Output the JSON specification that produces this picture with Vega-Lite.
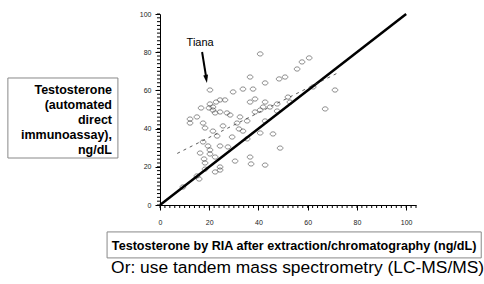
{
  "$schema": "https://vega.github.io/schema/vega-lite/v6.json",
  "width": 256,
  "height": 191,
  "autosize": {"type": "none"},
  "padding": {"left": 160, "top": 14, "right": 68, "bottom": 79},
  "background": "white",
  "config": {"view": {"stroke": null}, "font": "Liberation Sans"},
  "resolve": {"axis": {"x": "independent", "y": "independent"}},
  "datasets": {
    "minorTicks": [
      {"v": 0}, {"v": 2}, {"v": 4}, {"v": 6}, {"v": 8}, {"v": 10}, {"v": 12}, {"v": 14}, {"v": 16}, {"v": 18},
      {"v": 20}, {"v": 22}, {"v": 24}, {"v": 26}, {"v": 28}, {"v": 30}, {"v": 32}, {"v": 34}, {"v": 36}, {"v": 38},
      {"v": 40}, {"v": 42}, {"v": 44}, {"v": 46}, {"v": 48}, {"v": 50}, {"v": 52}, {"v": 54}, {"v": 56}, {"v": 58},
      {"v": 60}, {"v": 62}, {"v": 64}, {"v": 66}, {"v": 68}, {"v": 70}, {"v": 72}, {"v": 74}, {"v": 76}, {"v": 78},
      {"v": 80}, {"v": 82}, {"v": 84}, {"v": 86}, {"v": 88}, {"v": 90}, {"v": 92}, {"v": 94}, {"v": 96}, {"v": 98},
      {"v": 100}, {"v": 102}, {"v": 104}
    ]
  },
  "layer": [
    {
      "data": {"values": [
        {"x": 20.3, "y": 60.2}, {"x": 40.7, "y": 79.1}, {"x": 60.6, "y": 77.0}, {"x": 57.7, "y": 74.9},
        {"x": 55.7, "y": 71.2}, {"x": 36.6, "y": 67.0}, {"x": 48.4, "y": 66.0}, {"x": 50.8, "y": 67.0},
        {"x": 42.7, "y": 63.9}, {"x": 33.7, "y": 60.7}, {"x": 37.8, "y": 60.7}, {"x": 29.7, "y": 59.2},
        {"x": 71.1, "y": 60.2}, {"x": 62.2, "y": 61.8}, {"x": 67.1, "y": 50.3}, {"x": 20.3, "y": 52.9},
        {"x": 22.8, "y": 53.9}, {"x": 24.4, "y": 55.0}, {"x": 26.4, "y": 55.0}, {"x": 36.6, "y": 53.9},
        {"x": 38.6, "y": 55.5}, {"x": 42.7, "y": 53.9}, {"x": 47.6, "y": 52.9}, {"x": 52.8, "y": 53.9},
        {"x": 21.5, "y": 51.3}, {"x": 41.9, "y": 51.3}, {"x": 44.7, "y": 51.3}, {"x": 47.6, "y": 49.2},
        {"x": 42.7, "y": 44.0}, {"x": 40.7, "y": 37.7}, {"x": 45.9, "y": 37.2}, {"x": 48.8, "y": 29.8},
        {"x": 42.7, "y": 20.9}, {"x": 12.2, "y": 45.0}, {"x": 12.2, "y": 42.9}, {"x": 15.0, "y": 46.1},
        {"x": 17.5, "y": 42.9}, {"x": 18.3, "y": 40.3}, {"x": 21.5, "y": 38.7}, {"x": 25.6, "y": 41.4},
        {"x": 28.5, "y": 47.1}, {"x": 32.5, "y": 46.1}, {"x": 31.3, "y": 42.9}, {"x": 35.4, "y": 44.0},
        {"x": 32.1, "y": 39.8}, {"x": 33.7, "y": 38.7}, {"x": 23.2, "y": 36.1}, {"x": 29.3, "y": 35.6},
        {"x": 35.4, "y": 34.6}, {"x": 17.5, "y": 33.0}, {"x": 19.5, "y": 30.9}, {"x": 20.3, "y": 28.8},
        {"x": 24.4, "y": 30.9}, {"x": 27.6, "y": 30.4}, {"x": 16.3, "y": 27.2}, {"x": 20.3, "y": 26.7},
        {"x": 22.4, "y": 25.1}, {"x": 17.9, "y": 24.1}, {"x": 18.3, "y": 22.0}, {"x": 30.5, "y": 23.0},
        {"x": 36.6, "y": 25.1}, {"x": 37.0, "y": 21.5}, {"x": 18.3, "y": 18.8}, {"x": 22.4, "y": 17.3},
        {"x": 24.4, "y": 18.3}, {"x": 24.4, "y": 19.9}, {"x": 15.0, "y": 15.2}, {"x": 15.9, "y": 13.6},
        {"x": 9.3, "y": 9.4}, {"x": 21.5, "y": 49.7}, {"x": 24.4, "y": 48.7}, {"x": 22.4, "y": 48.2},
        {"x": 40.7, "y": 49.7}, {"x": 38.6, "y": 48.7}, {"x": 27.2, "y": 48.2}, {"x": 16.7, "y": 50.8},
        {"x": 19.9, "y": 50.8}, {"x": 52.0, "y": 56.5}
      ]},
      "mark": {"type": "point", "shape": "M-1,0A1,0.75 0 1,1 1,0A1,0.75 0 1,1 -1,0Z", "size": 32, "stroke": "#444", "strokeWidth": 0.6, "filled": false, "opacity": 1},
      "encoding": {
        "x": {
          "field": "x", "type": "quantitative",
          "scale": {"domain": [0, 104], "nice": false, "zero": false},
          "axis": {
            "orient": "bottom", "title": null,
            "values": [0, 20, 40, 60, 80, 100],
            "ticks": true, "tickSize": 5, "labelFlush": false, "labelOverlap": false,
            "labelFontSize": 7, "labelColor": "#222", "labelPadding": 8,
            "domainColor": "#000", "tickColor": "#000", "domainWidth": 1, "tickWidth": 1,
            "grid": false
          }
        },
        "y": {
          "field": "y", "type": "quantitative",
          "scale": {"domain": [0, 100], "nice": false, "zero": false},
          "axis": {
            "orient": "left", "title": null,
            "values": [0, 20, 40, 60, 80, 100],
            "ticks": true, "tickSize": 5, "labelFlush": false, "labelOverlap": false,
            "labelFontSize": 7, "labelColor": "#222", "labelPadding": 4,
            "domainColor": "#000", "tickColor": "#000", "domainWidth": 1, "tickWidth": 1,
            "grid": false
          }
        }
      }
    },
    {
      "data": {"name": "minorTicks"},
      "mark": {"type": "tick", "orient": "vertical", "size": 3, "thickness": 1, "yOffset": 1.5, "color": "black", "opacity": 1},
      "encoding": {
        "x": {"field": "v", "type": "quantitative", "axis": null},
        "y": {"datum": 0, "type": "quantitative", "axis": null}
      }
    },
    {
      "data": {"name": "minorTicks"},
      "transform": [{"filter": "datum.v <= 100"}],
      "mark": {"type": "tick", "orient": "horizontal", "size": 3, "thickness": 1, "xOffset": -1.5, "color": "black", "opacity": 1},
      "encoding": {
        "y": {"field": "v", "type": "quantitative", "axis": null},
        "x": {"datum": 0, "type": "quantitative", "axis": null}
      }
    },
    {
      "data": {"values": [{"x": 0, "y": 0}, {"x": 100, "y": 100}]},
      "mark": {"type": "line", "color": "black", "strokeWidth": 2.5},
      "encoding": {
        "x": {"field": "x", "type": "quantitative", "axis": null},
        "y": {"field": "y", "type": "quantitative", "axis": null}
      }
    },
    {
      "data": {"values": [{}]},
      "mark": {"type": "rect", "fill": "white", "stroke": "#888", "strokeWidth": 1},
      "encoding": {
        "x": {"datum": -61.8, "type": "quantitative", "axis": null},
        "x2": {"datum": -17.1},
        "y": {"datum": 66.5, "type": "quantitative", "axis": null},
        "y2": {"datum": 24.6}
      }
    },
    {
      "data": {"values": [{"label": "Testosterone\n(automated\ndirect\nimmunoassay),\nng/dL"}]},
      "mark": {"type": "text", "fontWeight": "bold", "fontSize": 12.5, "align": "right", "baseline": "middle", "lineBreak": "\n", "lineHeight": 15, "color": "black"},
      "encoding": {
        "x": {"datum": -19.5, "type": "quantitative", "axis": null},
        "y": {"datum": 60.2, "type": "quantitative", "axis": null},
        "text": {"field": "label"}
      }
    },
    {
      "data": {"values": [{}]},
      "mark": {"type": "rect", "fill": "white", "stroke": "#888", "strokeWidth": 1},
      "encoding": {
        "x": {"datum": -21.5, "type": "quantitative", "axis": null},
        "x2": {"datum": 130.5},
        "y": {"datum": -14.1, "type": "quantitative", "axis": null},
        "y2": {"datum": -27.7}
      }
    },
    {
      "data": {"values": [{"label": "Testosterone by RIA after extraction/chromatography (ng/dL)"}]},
      "mark": {"type": "text", "fontWeight": "bold", "fontSize": 12.6, "align": "center", "baseline": "middle", "color": "black"},
      "encoding": {
        "x": {"datum": 54.5, "type": "quantitative", "axis": null},
        "y": {"datum": -21.7, "type": "quantitative", "axis": null},
        "text": {"field": "label"}
      }
    },
    {
      "data": {"values": [{"label": "Or: use tandem mass spectrometry (LC-MS/MS)"}]},
      "mark": {"type": "text", "fontSize": 17.4, "align": "center", "baseline": "middle", "color": "black"},
      "encoding": {
        "x": {"datum": 55.9, "type": "quantitative", "axis": null},
        "y": {"datum": -33.0, "type": "quantitative", "axis": null},
        "text": {"field": "label"}
      }
    },
    {
      "data": {"values": [{"x": 7, "y": 27}, {"x": 72, "y": 69}]},
      "mark": {"type": "line", "color": "#333", "strokeWidth": 0.8, "strokeDash": [3, 4]},
      "encoding": {
        "x": {"field": "x", "type": "quantitative", "axis": null},
        "y": {"field": "y", "type": "quantitative", "axis": null}
      }
    },
    {
      "data": {"values": [{"label": "Tiana"}]},
      "mark": {"type": "text", "fontSize": 11, "align": "center", "baseline": "middle", "color": "black"},
      "encoding": {
        "x": {"datum": 16.3, "type": "quantitative", "axis": null},
        "y": {"datum": 84.8, "type": "quantitative", "axis": null},
        "text": {"field": "label"}
      }
    },
    {
      "data": {"values": [{}]},
      "mark": {"type": "rule", "color": "black", "strokeWidth": 2},
      "encoding": {
        "x": {"datum": 17.1, "type": "quantitative", "axis": null},
        "y": {"datum": 80.1, "type": "quantitative", "axis": null},
        "x2": {"datum": 18.8},
        "y2": {"datum": 66.5}
      }
    },
    {
      "data": {"values": [{}]},
      "mark": {"type": "point", "shape": "M-0.6,-1L0.6,-1L0,1Z", "size": 64, "filled": true, "color": "black", "opacity": 1, "angle": -9.5},
      "encoding": {
        "x": {"datum": 18.8, "type": "quantitative", "axis": null},
        "y": {"datum": 66.0, "type": "quantitative", "axis": null}
      }
    }
  ]
}
